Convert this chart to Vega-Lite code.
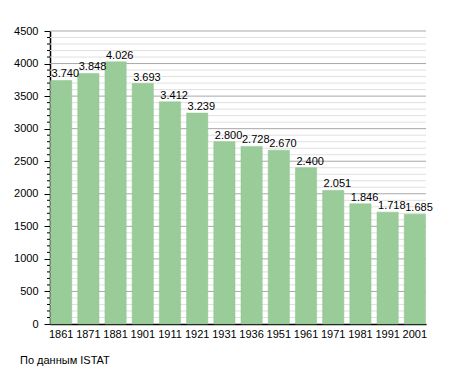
{
  "$schema": "https://vega.github.io/schema/vega-lite/v6.json",
  "autosize": "none",
  "width": 376,
  "height": 293,
  "padding": {"left": 50, "top": 31, "right": 29, "bottom": 49},
  "background": "white",
  "config": {"view": {"stroke": null}, "font": "Liberation Sans",
    "axisY": {"values": [0,500,1000,1500,2000,2500,3000,3500,4000,4500], "format": "d", "grid": false, "domainColor": "#000", "domainWidth": 1.5, "tickColor": "#000", "tickSize": 6, "labelFontSize": 11, "labelColor": "#000", "labelPadding": 6, "labelFont": "Liberation Sans", "title": null}},
  "title": {"text": "По данным  ISTAT", "orient": "bottom", "anchor": "start", "frame": "group", "dx": -30, "offset": 16, "fontSize": 11, "fontWeight": "normal", "font": "Liberation Sans", "color": "#000"},
  "data": {"values": [
    {"year": "1861", "pop": 3740, "label": "3.740"},
    {"year": "1871", "pop": 3848, "label": "3.848"},
    {"year": "1881", "pop": 4026, "label": "4.026"},
    {"year": "1901", "pop": 3693, "label": "3.693"},
    {"year": "1911", "pop": 3412, "label": "3.412"},
    {"year": "1921", "pop": 3239, "label": "3.239"},
    {"year": "1931", "pop": 2800, "label": "2.800"},
    {"year": "1936", "pop": 2728, "label": "2.728"},
    {"year": "1951", "pop": 2670, "label": "2.670"},
    {"year": "1961", "pop": 2400, "label": "2.400"},
    {"year": "1971", "pop": 2051, "label": "2.051"},
    {"year": "1981", "pop": 1846, "label": "1.846"},
    {"year": "1991", "pop": 1718, "label": "1.718"},
    {"year": "2001", "pop": 1685, "label": "1.685"}
  ]},
  "layer": [
    {
      "mark": {"type": "rule", "color": "#e0e0e0", "strokeWidth": 1},
      "data": {"values": [
        {"v":100},{"v":200},{"v":300},{"v":400},{"v":600},{"v":700},{"v":800},{"v":900},
        {"v":1100},{"v":1200},{"v":1300},{"v":1400},{"v":1600},{"v":1700},{"v":1800},{"v":1900},
        {"v":2100},{"v":2200},{"v":2300},{"v":2400},{"v":2600},{"v":2700},{"v":2800},{"v":2900},
        {"v":3100},{"v":3200},{"v":3300},{"v":3400},{"v":3600},{"v":3700},{"v":3800},{"v":3900},
        {"v":4100},{"v":4200},{"v":4300},{"v":4400}
      ]},
      "encoding": {
        "y": {"field": "v", "type": "quantitative", "title": null,
              "scale": {"domain": [0, 4500], "nice": false}}
      }
    },
    {
      "mark": {"type": "rule", "color": "#a8a8a8", "strokeWidth": 1},
      "data": {"values": [{"v":500},{"v":1000},{"v":1500},{"v":2000},{"v":2500},{"v":3000},{"v":3500},{"v":4000},{"v":4500}]},
      "encoding": {
        "y": {"field": "v", "type": "quantitative", "title": null}
      }
    },
    {
      "mark": {"type": "bar", "color": "#99cc99", "stroke": "#8fc28f", "strokeWidth": 0.5},
      "encoding": {
        "x": {"field": "year", "type": "ordinal", "sort": null, "title": null,
              "scale": {"paddingInner": 0.22, "paddingOuter": 0.02},
              "axis": {"labelAngle": 0, "ticks": false, "domainColor": "#000", "domainWidth": 1.5, "labelFontSize": 11, "labelColor": "#000", "labelPadding": 4, "labelFont": "Liberation Sans"}},
        "y": {"field": "pop", "type": "quantitative", "title": null}
      }
    },
    {
      "mark": {"type": "rule", "color": "#000", "strokeWidth": 1},
      "data": {"values": [
        {"v":100},{"v":200},{"v":300},{"v":400},{"v":600},{"v":700},{"v":800},{"v":900},
        {"v":1100},{"v":1200},{"v":1300},{"v":1400},{"v":1600},{"v":1700},{"v":1800},{"v":1900},
        {"v":2100},{"v":2200},{"v":2300},{"v":2400},{"v":2600},{"v":2700},{"v":2800},{"v":2900},
        {"v":3100},{"v":3200},{"v":3300},{"v":3400},{"v":3600},{"v":3700},{"v":3800},{"v":3900},
        {"v":4100},{"v":4200},{"v":4300},{"v":4400}
      ]},
      "encoding": {
        "y": {"field": "v", "type": "quantitative", "title": null},
        "x": {"value": -3},
        "x2": {"value": 0}
      }
    },
    {
      "mark": {"type": "text", "align": "left", "baseline": "bottom", "dx": 1, "dy": -1, "fontSize": 11, "color": "#000", "font": "Liberation Sans"},
      "encoding": {
        "x": {"field": "year", "type": "ordinal", "sort": null, "bandPosition": 0},
        "y": {"field": "pop", "type": "quantitative", "title": null},
        "text": {"field": "label"}
      }
    }
  ]
}
